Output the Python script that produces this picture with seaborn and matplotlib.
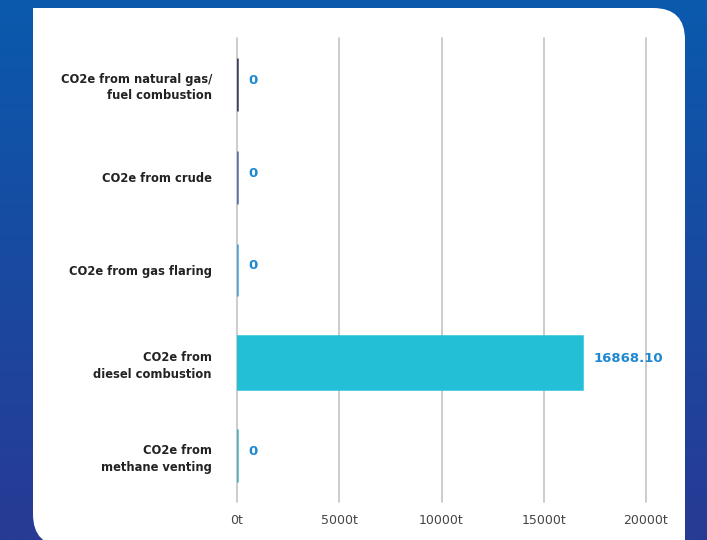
import numpy as np
import pandas as pd
import seaborn as sns
import matplotlib.pyplot as plt
from matplotlib.patches import FancyBboxPatch, Rectangle
from matplotlib.colors import LinearSegmentedColormap

# data
categories = [
    'CO2e from natural gas/\nfuel combustion',
    'CO2e from crude',
    'CO2e from gas flaring',
    'CO2e from\ndiesel combustion',
    'CO2e from\nmethane venting',
]
values = [0, 0, 0, 16868.10, 0]
value_labels = ['0', '0', '0', '16868.10', '0']
bar_colors = ['#3b3f5e', '#5a6fae', '#4aa3d6', '#22bfd6', '#4db3b8']
x_ticks = [0, 5000, 10000, 15000, 20000]
x_tick_labels = ['0t', '5000t', '10000t', '15000t', '20000t']

df = pd.DataFrame({'category': categories, 'value': values})

sns.set_style('white')
plt.rcParams['font.family'] = ['DejaVu Sans']

fig = plt.figure(figsize=(7.07, 5.40), dpi=100)

# 背景渐变
bg = fig.add_axes([0, 0, 1, 1], zorder=-10)
grad = np.linspace(0, 1, 256).reshape(-1, 1)
cmap = LinearSegmentedColormap.from_list('bg', ['#0a5aad', '#283a94'])
bg.imshow(grad, aspect='auto', cmap=cmap, extent=[0, 1, 0, 1], origin='upper')
bg.set_xlim(0, 1)
bg.set_ylim(0, 1)
bg.axis('off')

# 白色卡片 (右上、左下圆角)
card = FancyBboxPatch((33 / 707, -6 / 540), (685 - 33) / 707, (532 + 6) / 540,
                      boxstyle='round,pad=0,rounding_size=0.045',
                      transform=bg.transAxes, facecolor='white', edgecolor='none',
                      mutation_aspect=707 / 540)
bg.add_patch(card)
bg.add_patch(Rectangle((33 / 707, 0.5), 0.2, 0.5 - 8 / 540, transform=bg.transAxes,
                       facecolor='white', edgecolor='none'))
bg.add_patch(Rectangle((0.7, 0), 685 / 707 - 0.7, 0.5, transform=bg.transAxes,
                       facecolor='white', edgecolor='none'))

ax = fig.add_axes([237 / 707, 38 / 540, (646 - 237) / 707, (502 - 38) / 540])
ax.patch.set_alpha(0)

sns.barplot(data=df, x='value', y='category', hue='category', palette=bar_colors,
            orient='h', width=0.57, saturation=1, legend=False, ax=ax, zorder=3)

# 0 值的条形画成细线
for patch, c in zip(ax.patches, bar_colors):
    patch.set_edgecolor(c)
    patch.set_linewidth(1.8)

for i, (v, lab) in enumerate(zip(values, value_labels)):
    ax.annotate(lab, xy=(v, i), xytext=(8.5, 3), textcoords='offset points',
                ha='left', va='center', color='#1e88d0', fontsize=9.5,
                fontweight='bold')

ax.set_xlim(0, 20000)
ax.set_ylim(4.5, -0.5)
ax.set_xticks(x_ticks)
ax.set_xticklabels(x_tick_labels, color='#444444', fontsize=9)
ax.set_yticks(range(len(categories)))
ax.set_yticklabels(categories, fontsize=8.3, fontweight='bold', color='#222222',
                   ha='right', linespacing=1.35)
ax.tick_params(axis='y', length=0, pad=18)
ax.tick_params(axis='x', length=0, pad=9)
ax.xaxis.grid(True, color='#cccccc', linewidth=1.4, zorder=0)
for gl in ax.get_xgridlines():
    gl.set_clip_on(False)
ax.set_axisbelow(True)
for s in ax.spines.values():
    s.set_visible(False)
ax.set_xlabel('')
ax.set_ylabel('')

plt.savefig('out.png', dpi=100)
